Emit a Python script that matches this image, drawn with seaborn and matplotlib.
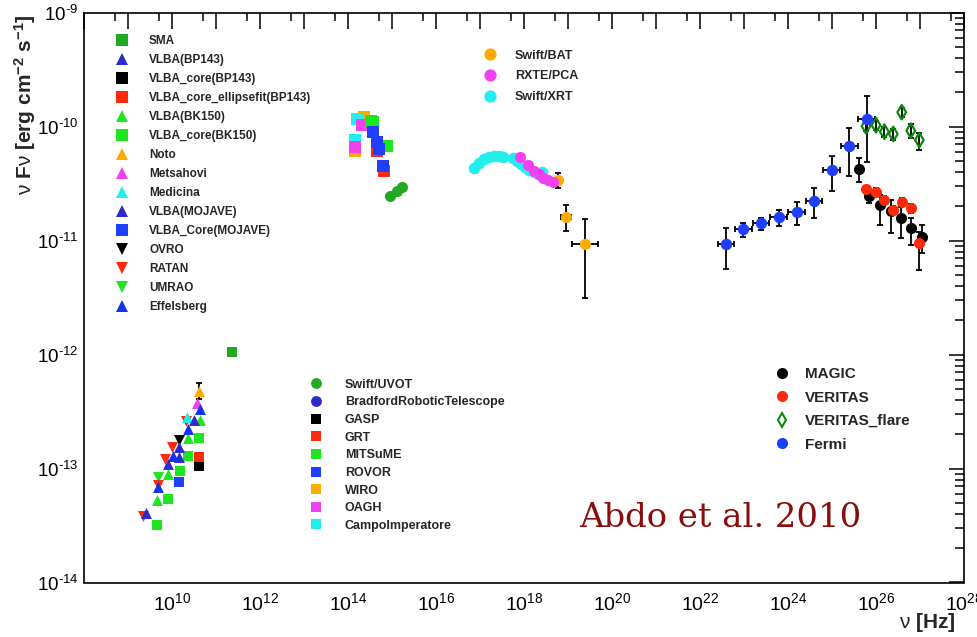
import numpy as np
import matplotlib
matplotlib.use("Agg")
import matplotlib.pyplot as plt
import seaborn as sns
from matplotlib.lines import Line2D
from matplotlib.ticker import FixedLocator, FuncFormatter, LogLocator, NullFormatter

# ---------------------------------------------------------------- data
# radio
sma_nu = [2.28e11]; sma_f = [1.06e-12]
vlba_bp143_nu = [2.56e9]; vlba_bp143_f = [4.06e-14]
vlba_core_bp143_nu = [4.17e10]; vlba_core_bp143_f = [1.06e-13]
vlba_core_ell_nu = [4.17e10]; vlba_core_ell_f = [1.26e-13]
vlba_bk150_nu = [4.32e10, 2.34e10, 8.24e9, 4.63e9]
vlba_bk150_f = [2.64e-13, 1.86e-13, 9.0e-14, 5.31e-14]
vlba_core_bk150_nu = [4.17e10, 2.34e10, 1.52e10, 8.24e9, 4.63e9]
vlba_core_bk150_f = [1.86e-13, 1.30e-13, 9.6e-14, 5.42e-14, 3.21e-14]
noto_nu = [4.17e10]; noto_f = [4.83e-13]; noto_lo = [4.11e-13]; noto_hi = [5.68e-13]
metsahovi_nu = [3.64e10]; metsahovi_f = [3.74e-13]
medicina_nu = [2.23e10]; medicina_f = [2.86e-13]
mojave_nu = [3.21e10, 1.47e10, 1.47e10, 8.24e9]
mojave_f = [2.67e-13, 1.56e-13, 1.27e-13, 1.10e-13]
mojave_core_nu = [1.47e10]; mojave_core_f = [7.59e-14]
ovro_nu = [1.47e10]; ovro_f = [1.79e-13]
ratan_nu = [2.08e10, 9.84e9, 6.93e9, 4.89e9, 2.16e9]
ratan_f = [2.60e-13, 1.54e-13, 1.22e-13, 7.24e-14, 3.87e-14]
umrao_nu = [4.89e9]; umrao_f = [8.39e-14]
effelsberg_nu = [4.89e9, 1.04e10, 2.28e10, 4.32e10]
effelsberg_f = [6.95e-14, 1.30e-13, 2.23e-13, 3.36e-13]

# optical / UV
uvot_nu = [9.02e14, 1.28e15, 1.66e15]; uvot_f = [2.48e-11, 2.75e-11, 2.94e-11]
bradford_nu = [4.49e14]; bradford_f = [7.3e-11]
gasp_nu = [5.14e14]; gasp_f = [6.4e-11]
grt_nu = [4.49e14, 6.58e14]; grt_f = [6.15e-11, 4.11e-11]
mitsume_nu = [3.76e14, 7.59e14, 3.4e14]; mitsume_f = [1.09e-10, 6.81e-11, 1.13e-10]
rovor_nu = [3.76e14, 4.49e14, 5.14e14, 6.34e14]
rovor_f = [8.91e-11, 7.28e-11, 6.37e-11, 4.55e-11]
wiro_nu = [2.34e14, 1.44e14]; wiro_f = [1.21e-10, 6.15e-11]
oagh_nu = [2.05e14, 1.44e14]; oagh_f = [1.04e-10, 6.58e-11]
campo_nu = [1.63e14, 1.44e14]; campo_f = [1.17e-10, 7.64e-11]

# X-ray
xrt_nu = [7.31e16, 9.49e16, 1.23e17, 1.60e17, 2.08e17, 2.70e17, 3.33e17,
          5.62e17, 6.93e17, 8.55e17, 1.05e18, 1.30e18, 1.69e18, 2.08e18, 2.57e18]
xrt_f = [4.35e-11, 4.81e-11, 5.21e-11, 5.42e-11, 5.53e-11, 5.53e-11, 5.42e-11,
         5.32e-11, 5.01e-11, 4.71e-11, 4.43e-11, 4.18e-11, 4.01e-11, 3.85e-11, 4.01e-11]
rxte_nu = [8.11e17, 1.23e18, 1.69e18, 2.19e18, 2.70e18, 3.51e18, 4.56e18]
rxte_f = [5.42e-11, 4.61e-11, 4.09e-11, 3.85e-11, 3.55e-11, 3.41e-11, 3.27e-11]
bat_nu = [5.93e18, 9.02e18, 2.43e19]
bat_f = [3.40e-11, 1.60e-11, 9.3e-12]
bat_f_lo = [2.9e-11, 1.22e-11, 3.13e-12]
bat_f_hi = [3.9e-11, 2.06e-11, 1.54e-11]
bat_xhalf_dex = [0.03, 0.11, 0.30]

# gamma-ray
fermi_nu = [3.90e22, 9.64e22, 2.43e23, 6.15e23, 1.58e24, 3.90e24, 9.84e24, 2.47e25, 6.15e25]
fermi_f = [9.29e-12, 1.26e-11, 1.42e-11, 1.60e-11, 1.80e-11, 2.24e-11, 4.17e-11, 6.77e-11, 1.17e-10]
fermi_f_lo = [5.61e-12, 1.08e-11, 1.24e-11, 1.35e-11, 1.37e-11, 1.57e-11, 2.73e-11, 3.70e-11, 4.93e-11]
fermi_f_hi = [1.30e-11, 1.42e-11, 1.58e-11, 1.86e-11, 2.20e-11, 2.92e-11, 5.57e-11, 9.79e-11, 1.86e-10]
fermi_xhalf_dex = 0.19

magic_nu = [4.17e25, 7.05e25, 1.23e26, 2.16e26, 3.70e26, 6.24e26, 1.09e27]
magic_f = [4.23e-11, 2.47e-11, 2.06e-11, 1.82e-11, 1.59e-11, 1.30e-11, 1.08e-11]
magic_f_lo = [3.29e-11, 2.14e-11, 1.37e-11, 1.17e-11, 1.05e-11, 9.17e-12, 7.80e-12]
magic_f_hi = [5.28e-11, 2.79e-11, 2.52e-11, 2.28e-11, 1.99e-11, 1.58e-11, 1.37e-11]

veritas_nu = [5.93e25, 1.0e26, 1.55e26, 2.47e26, 3.84e26, 6.24e26, 9.64e26]
veritas_f = [2.82e-11, 2.69e-11, 2.28e-11, 1.86e-11, 2.20e-11, 1.92e-11, 9.48e-12]
veritas_f_lo = [2.62e-11, 2.50e-11, 2.10e-11, 1.70e-11, 2.02e-11, 1.76e-11, 5.53e-12]
veritas_f_hi = [3.02e-11, 2.88e-11, 2.46e-11, 2.02e-11, 2.38e-11, 2.08e-11, 1.20e-11]

flare_nu = [5.93e25, 1.0e26, 1.55e26, 2.47e26, 3.84e26, 6.17e26, 9.64e26]
flare_f = [1.01e-10, 1.03e-10, 9.04e-11, 8.63e-11, 1.34e-10, 9.22e-11, 7.64e-11]
flare_f_lo = [9.1e-11, 9.3e-11, 8.1e-11, 7.7e-11, 1.21e-10, 8.0e-11, 6.3e-11]
flare_f_hi = [1.11e-10, 1.13e-10, 1.0e-10, 9.6e-11, 1.47e-10, 1.05e-10, 8.8e-11]

radio_labels = ["SMA", "VLBA(BP143)", "VLBA_core(BP143)", "VLBA_core_ellipsefit(BP143)",
                "VLBA(BK150)", "VLBA_core(BK150)", "Noto", "Metsahovi", "Medicina",
                "VLBA(MOJAVE)", "VLBA_Core(MOJAVE)", "OVRO", "RATAN", "UMRAO", "Effelsberg"]
optical_labels = ["Swift/UVOT", "BradfordRoboticTelescope", "GASP", "GRT", "MITSuME",
                  "ROVOR", "WIRO", "OAGH", "CampoImperatore"]
xray_labels = ["Swift/BAT", "RXTE/PCA", "Swift/XRT"]
gamma_labels = ["MAGIC", "VERITAS", "VERITAS_flare", "Fermi"]

# ---------------------------------------------------------------- style
sns.set_style("white")
plt.rcParams["font.family"] = ["Liberation Sans", "DejaVu Sans"]
plt.rcParams["mathtext.fontset"] = "custom"
plt.rcParams["mathtext.rm"] = "Liberation Sans"
plt.rcParams["mathtext.it"] = "Liberation Sans:italic"
plt.rcParams["mathtext.bf"] = "Liberation Sans:bold"
plt.rcParams["mathtext.default"] = "regular"

GD = "#22a822"   # dark green
GB = "#1ee61e"   # bright green
BD = "#2b2bcc"   # dark blue
BL = "#1f3fff"   # blue
RD = "#ff2a0a"
OR = "#ffaa00"
MG = "#f040f0"
CY = "#22eeee"
FG = "#0a8a0a"

W, H = 978, 637
def fx(p): return p / W
def fy(p): return 1 - p / H

fig = plt.figure(figsize=(W / 100, H / 100), dpi=100)
ax = fig.add_axes([fx(84), fy(582.5), (964 - 84) / W, (582.5 - 12.7) / H])
ax.set_xscale("log")
ax.set_yscale("log")

def pts(nu, f, color, marker, size, z=3):
    sns.scatterplot(x=nu, y=f, ax=ax, color=color, marker=marker, s=size,
                    linewidth=0, zorder=z, legend=False)

def ebar(nu, f, lo=None, hi=None, xdex=None, z=2):
    nu = np.asarray(nu); f = np.asarray(f)
    yerr = None
    if lo is not None:
        yerr = [f - np.asarray(lo), np.asarray(hi) - f]
    xerr = None
    if xdex is not None:
        d = np.asarray(xdex) * np.ones_like(nu)
        xerr = [nu - nu / 10 ** d, nu * 10 ** d - nu]
    ax.errorbar(nu, f, yerr=yerr, xerr=xerr, fmt="none", ecolor="black",
                elinewidth=1.3, capsize=2.5, capthick=1.3, zorder=z)

# radio
SQ, TR = 58, 62
pts(vlba_core_bk150_nu, vlba_core_bk150_f, GB, "s", SQ)
pts(vlba_bk150_nu, vlba_bk150_f, GB, "^", TR)
pts(umrao_nu, umrao_f, GB, "v", TR)
pts(mojave_core_nu, mojave_core_f, BL, "s", SQ)
pts(vlba_core_bp143_nu, vlba_core_bp143_f, "black", "s", SQ)
pts(vlba_core_ell_nu, vlba_core_ell_f, RD, "s", SQ)
pts(ratan_nu, ratan_f, RD, "v", TR)
pts(ovro_nu, ovro_f, "black", "v", TR)
pts(medicina_nu, medicina_f, CY, "^", TR)
pts(metsahovi_nu, metsahovi_f, MG, "^", TR)
pts(mojave_nu, mojave_f, BD, "^", TR)
pts(vlba_bp143_nu, vlba_bp143_f, BD, "^", TR)
pts(effelsberg_nu, effelsberg_f, "#1133ee", "^", TR)
ebar(noto_nu, noto_f, noto_lo, noto_hi)
pts(noto_nu, noto_f, OR, "^", TR)
pts(sma_nu, sma_f, GD, "s", SQ)

# optical
OSQ = 80
pts(wiro_nu, wiro_f, OR, "s", OSQ)
pts(campo_nu, campo_f, CY, "s", OSQ)
pts(oagh_nu, oagh_f, MG, "s", OSQ)
pts(bradford_nu, bradford_f, BD, "o", 60)
pts(gasp_nu, gasp_f, "black", "s", OSQ)
pts(mitsume_nu, mitsume_f, GB, "s", OSQ)
pts(grt_nu, grt_f, RD, "s", OSQ)
pts(rovor_nu, rovor_f, BL, "s", OSQ)
pts(uvot_nu, uvot_f, GD, "o", 64)

# X-ray
ebar(bat_nu, bat_f, bat_f_lo, bat_f_hi, bat_xhalf_dex)
pts(bat_nu, bat_f, OR, "o", 64)
pts(xrt_nu, xrt_f, CY, "o", 70)
pts(rxte_nu, rxte_f, MG, "o", 64)

# gamma
ebar(flare_nu, flare_f, flare_f_lo, flare_f_hi)
sns.scatterplot(x=flare_nu, y=flare_f, ax=ax, marker="d", s=55, facecolors="none",
                edgecolor=FG, linewidth=1.6, zorder=3, legend=False)
ebar(magic_nu, magic_f, magic_f_lo, magic_f_hi)
pts(magic_nu, magic_f, "black", "o", 64)
ebar(veritas_nu, veritas_f, veritas_f_lo, veritas_f_hi)
pts(veritas_nu, veritas_f, RD, "o", 64, z=4)
ebar(fermi_nu, fermi_f, fermi_f_lo, fermi_f_hi, fermi_xhalf_dex)
pts(fermi_nu, fermi_f, BL, "o", 68, z=5)

# ---------------------------------------------------------------- axes
ax.set_xlim(1e8, 1e28)
ax.set_ylim(1e-14, 1e-9)
ax.xaxis.set_major_locator(FixedLocator(10.0 ** np.arange(8, 29)))
ax.xaxis.set_minor_locator(LogLocator(base=10, subs=[5], numticks=100))
ax.yaxis.set_major_locator(FixedLocator(10.0 ** np.arange(-14, -8)))
ax.yaxis.set_minor_locator(LogLocator(base=10, subs=np.arange(2, 10), numticks=100))

HYPH = "\u2010"

def xfmt(v, pos):
    e = int(round(np.log10(v)))
    return "$10^{" + str(e) + "}$" if (e % 2 == 0 and e > 8) else ""
def yfmt(v, pos):
    e = int(round(np.log10(v)))
    return "$10^{" + HYPH + str(-e) + "}$"
ax.xaxis.set_major_formatter(FuncFormatter(xfmt))
ax.yaxis.set_major_formatter(FuncFormatter(yfmt))
ax.xaxis.set_minor_formatter(NullFormatter())
ax.yaxis.set_minor_formatter(NullFormatter())

ax.tick_params(which="both", direction="in", top=True, right=True, width=1.1,
               colors="black", labelsize=14)
ax.tick_params(axis="x", which="major", length=11.5, pad=7)
ax.tick_params(axis="x", which="minor", length=5.8)
ax.tick_params(axis="y", which="major", length=11, pad=4, labelsize=13.5)
ax.tick_params(axis="y", which="minor", length=6.5)
for s in ax.spines.values():
    s.set_linewidth(1.2)
    s.set_color("black")

fig.text(fx(25), fy(14), r"$\nu\ \mathbf{F}\nu\ \mathbf{[erg\ cm^{-2}\ s^{-1}]}$",
         rotation=90, ha="center", va="top", fontsize=15)
fig.text(fx(956), fy(623), r"$\nu\ \mathbf{[Hz]}$", ha="right", va="center", fontsize=15)

fig.text(fx(579), fy(527), "Abdo et al. 2010", family="DejaVu Serif", fontsize=24.4,
         color="#8a0c0c", ha="left", va="baseline")

# ---------------------------------------------------------------- legends
def h(color, marker, ms, open_=False):
    if open_:
        return Line2D([], [], linestyle="none", marker=marker, markersize=ms,
                      markerfacecolor="none", markeredgecolor=color, markeredgewidth=1.5)
    return Line2D([], [], linestyle="none", marker=marker, markersize=ms,
                  color=color, markeredgewidth=0)

radio_h = [h(GD, "s", 8.3), h(BD, "^", 8.5), h("black", "s", 8.3), h(RD, "s", 8.3),
           h(GB, "^", 8.5), h(GB, "s", 8.3), h(OR, "^", 8.5), h(MG, "^", 8.5),
           h(CY, "^", 8.5), h(BD, "^", 8.5), h(BL, "s", 8.3), h("black", "v", 8.5),
           h(RD, "v", 8.5), h(GB, "v", 8.5), h("#1133ee", "^", 8.5)]
opt_h = [h(GD, "o", 7.8), h(BD, "o", 7.8), h("black", "s", 7.3), h(RD, "s", 7.3),
         h(GB, "s", 7.3), h(BL, "s", 7.3), h(OR, "s", 7.3), h(MG, "s", 7.3), h(CY, "s", 7.3)]
xray_h = [h(OR, "o", 8.8), h(MG, "o", 8.8), h(CY, "o", 8.8)]
gam_h = [h("black", "o", 8.0), h(RD, "o", 8.0), h(FG, "d", 7.5, open_=True), h(BL, "o", 8.0)]

def leg(handles, labels, x_center, y_first, fs, pitch, text_x):
    em = fs * 100 / 72.0
    hl = 1.0
    anchor_x = x_center - hl * em / 2
    pad = (text_x - (anchor_x + hl * em)) / em
    txt_h = 1.15 * em
    ls = (pitch - txt_h) / em
    top = y_first - txt_h / 2
    lg = fig.legend(handles, labels, loc="upper left",
                    bbox_to_anchor=(fx(anchor_x), fy(top)), bbox_transform=fig.transFigure,
                    frameon=False, borderpad=0, borderaxespad=0, handlelength=hl,
                    handletextpad=pad, labelspacing=ls,
                    prop={"family": "Liberation Sans", "weight": "bold", "size": fs})
    return lg

leg(radio_h, radio_labels, 122, 41.7, 8.5, 20.6, 149)
leg(opt_h, optical_labels, 316, 386, 9.0, 20.0, 345)
leg(xray_h, xray_labels, 490, 57, 9.0, 23.0, 515)
leg(gam_h, gamma_labels, 782, 376, 11.0, 27.0, 805)

fig.savefig("out.png", dpi=100)
